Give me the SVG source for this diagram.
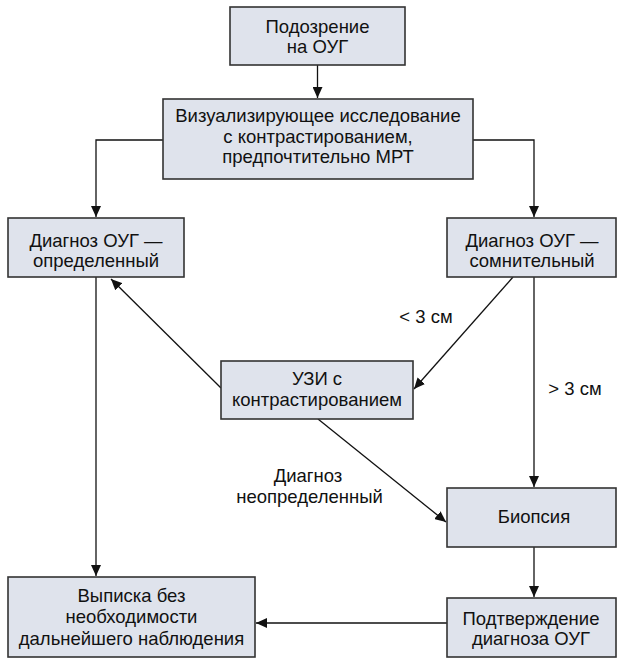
<svg xmlns="http://www.w3.org/2000/svg" width="617" height="659" viewBox="0 0 617 659">
<defs>
<style>
.box{fill:#dfe3ec;stroke:#333;stroke-width:1.6}
.t{font-family:"Liberation Sans",Arial,sans-serif;font-size:18.5px;fill:#111;text-anchor:middle}
.c{fill:none;stroke:#111;stroke-width:1.3}
</style>
<marker id="ah" markerUnits="userSpaceOnUse" markerWidth="12" markerHeight="10" refX="11" refY="5" orient="auto">
<path d="M0,0 L11,5 L0,10 Z" fill="#111"/>
</marker>
</defs>
<rect width="617" height="659" fill="#fff"/>
<g id="connectors">
<line class="c" x1="317.5" y1="65" x2="317.5" y2="98" marker-end="url(#ah)"/>
<polyline class="c" points="163,140 96,140 96,217" marker-end="url(#ah)"/>
<polyline class="c" points="473,140 534,140 534,217" marker-end="url(#ah)"/>
<line class="c" x1="96" y1="277" x2="96" y2="576" marker-end="url(#ah)"/>
<line class="c" x1="513" y1="277" x2="414" y2="389" marker-end="url(#ah)"/>
<line class="c" x1="534" y1="277" x2="534" y2="487" marker-end="url(#ah)"/>
<line class="c" x1="221" y1="388" x2="111" y2="279" marker-end="url(#ah)"/>
<line class="c" x1="318" y1="419" x2="446" y2="522" marker-end="url(#ah)"/>
<line class="c" x1="534" y1="547" x2="534" y2="597" marker-end="url(#ah)"/>
<line class="c" x1="447" y1="623" x2="256" y2="623" marker-end="url(#ah)"/>
<text class="t" x="426" y="323">&lt; 3 см</text>
<text class="t" x="575" y="395">&gt; 3 см</text>
<text class="t" x="308" y="482">Диагноз</text>
<text class="t" x="309.5" y="503">неопределенный</text>
</g>
<g id="n1">
<rect class="box" x="230" y="7" width="175" height="58"/>
<text class="t" x="317.5" y="33">Подозрение</text>
<text class="t" x="317.5" y="53">на ОУГ</text>
</g>
<g id="n2">
<rect class="box" x="163" y="99" width="310" height="80"/>
<text class="t" x="318" y="122">Визуализирующее исследование</text>
<text class="t" x="318" y="142.5">с контрастированием,</text>
<text class="t" x="318" y="163">предпочтительно МРТ</text>
</g>
<g id="n3">
<rect class="box" x="8" y="218" width="176" height="59"/>
<text class="t" x="96" y="247">Диагноз ОУГ —</text>
<text class="t" x="96" y="267">определенный</text>
</g>
<g id="n4">
<rect class="box" x="447" y="218" width="169" height="59"/>
<text class="t" x="532" y="247">Диагноз ОУГ —</text>
<text class="t" x="532" y="267">сомнительный</text>
</g>
<g id="n5">
<rect class="box" x="221" y="361" width="192" height="58"/>
<text class="t" x="317" y="385">УЗИ с</text>
<text class="t" x="317" y="406">контрастированием</text>
</g>
<g id="n6">
<rect class="box" x="447" y="488" width="169" height="59"/>
<text class="t" x="534" y="523">Биопсия</text>
</g>
<g id="n7">
<rect class="box" x="447" y="598" width="169" height="59"/>
<text class="t" x="531" y="625">Подтверждение</text>
<text class="t" x="531" y="645">диагноза ОУГ</text>
</g>
<g id="n8">
<rect class="box" x="8" y="577" width="247" height="80"/>
<text class="t" x="131.5" y="602">Выписка без</text>
<text class="t" x="131.5" y="623">необходимости</text>
<text class="t" x="131.5" y="645">дальнейшего наблюдения</text>
</g>
</svg>
